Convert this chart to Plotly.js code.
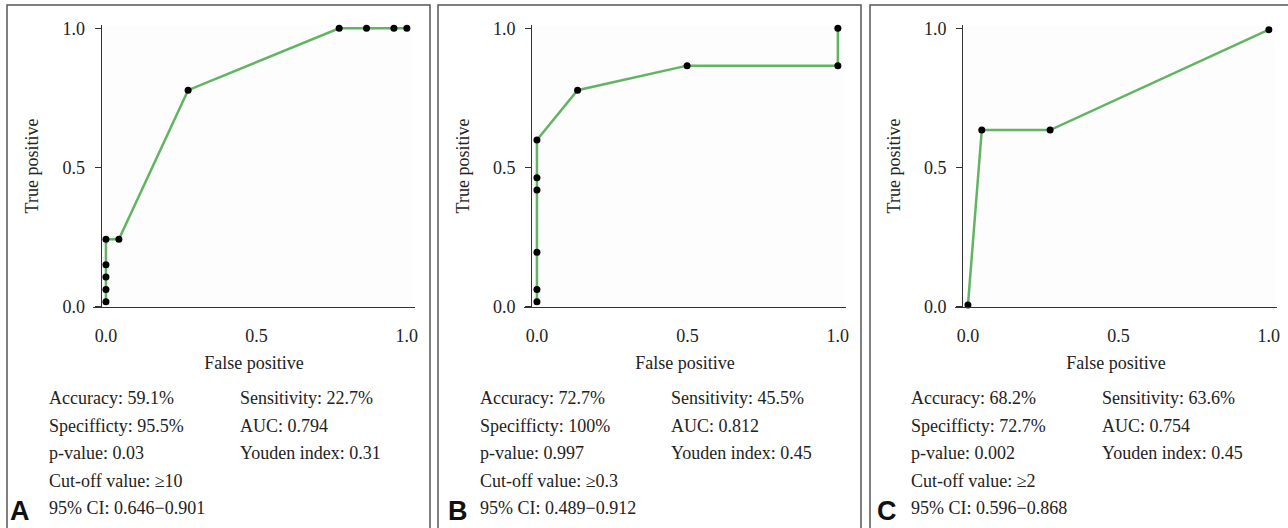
<!DOCTYPE html>
<html><head><meta charset="utf-8">
<script src="https://cdn.plot.ly/plotly-3.0.1.min.js"></script>
<style>html,body{margin:0;padding:0;background:#fff;} #chart{width:1288px;height:528px;}</style>
</head><body><div id="chart"></div>
<script>
// ---- data ----
const panelLetters = ["A", "B", "C"];
const fprA = [0, 0, 0, 0, 0, 0.043, 0.273, 0.775, 0.866, 0.957, 1.0];
const tprA = [0.019, 0.063, 0.108, 0.152, 0.243, 0.243, 0.778, 1.0, 1.0, 1.0, 1.0];
const fprB = [0, 0, 0, 0, 0, 0, 0.135, 0.499, 1.0, 1.0];
const tprB = [0.019, 0.063, 0.196, 0.42, 0.464, 0.599, 0.778, 0.866, 0.866, 1.0];
const fprC = [0, 0.046, 0.273, 1.0];
const tprC = [0.007, 0.635, 0.635, 0.995];
const tickVals = [0, 0.5, 1];
const tickText = ["0.0", "0.5", "1.0"];
const xTitle = "False positive";
const yTitle = "True positive";
const statsLeftA = ["Accuracy: 59.1%", "Specifficty: 95.5%", "p-value: 0.03", "Cut-off value: \u226510", "95% CI: 0.646\u22120.901"];
const statsRightA = ["Sensitivity: 22.7%", "AUC: 0.794", "Youden index: 0.31"];
const statsLeftB = ["Accuracy: 72.7%", "Specifficty: 100%", "p-value: 0.997", "Cut-off value: \u22650.3", "95% CI: 0.489\u22120.912"];
const statsRightB = ["Sensitivity: 45.5%", "AUC: 0.812", "Youden index: 0.45"];
const statsLeftC = ["Accuracy: 68.2%", "Specifficty: 72.7%", "p-value: 0.002", "Cut-off value: \u22652", "95% CI: 0.596\u22120.868"];
const statsRightC = ["Sensitivity: 63.6%", "AUC: 0.754", "Youden index: 0.45"];

// ---- layout helpers (pixel geometry) ----
const W = 1288, H = 528;
const px = v => v / W;
const py = v => 1 - v / H;
const serif = "Liberation Serif, Times New Roman, serif";
const green = "#62b463";

const panels = [
  {fpr: fprA, tpr: tprA, left: statsLeftA, right: statsRightA, plotL: 93, plotR: 415, yAx: 100.5, boxL: 7, boxR: 430, colL: 47, colR: 238, letX: 8},
  {fpr: fprB, tpr: tprB, left: statsLeftB, right: statsRightB, plotL: 524, plotR: 846, yAx: 531, boxL: 438, boxR: 861, colL: 478, colR: 669, letX: 446},
  {fpr: fprC, tpr: tprC, left: statsLeftC, right: statsRightC, plotL: 955, plotR: 1277, yAx: 962, boxL: 870, boxR: 1300, colL: 909, colR: 1100, letX: 875}
];
const plotTop = 25, plotBot = 307;
const rowY = [398, 426, 453, 481, 508];

const data = [];
const layout = {
  width: W, height: H,
  margin: {l: 0, r: 0, t: 0, b: 0},
  paper_bgcolor: "#fff", plot_bgcolor: "rgba(0,0,0,0)",
  showlegend: false, hovermode: false,
  font: {family: serif, size: 18, color: "#222"},
  shapes: [], annotations: []
};

panels.forEach((p, i) => {
  const n = i === 0 ? "" : String(i + 1);
  data.push({
    x: p.fpr, y: p.tpr, type: "scatter", mode: "lines+markers",
    xaxis: "x" + n, yaxis: "y" + n,
    line: {color: green, width: 2.5},
    marker: {color: "#000", size: 7},
    cliponaxis: false
  });
  layout["xaxis" + n] = {
    domain: [px(p.plotL), px(p.plotR)],
    range: [-0.043, 1.027],
    anchor: "y" + n,
    showgrid: false, zeroline: false,
    showline: true, linecolor: "#333", linewidth: 1.3,
    ticks: "", tickvals: tickVals, ticktext: tickText,
    ticklabelstandoff: 12,
    tickfont: {family: serif, size: 18, color: "#222"},
    title: {text: xTitle, font: {family: serif, size: 18, color: "#222"}, standoff: 11}
  };
  layout["yaxis" + n] = {
    domain: [py(plotBot), py(plotTop)],
    range: [0, 1.0118],
    anchor: "free", position: px(p.yAx),
    showgrid: false, zeroline: false,
    showline: true, linecolor: "#333", linewidth: 1.3,
    ticks: "outside", ticklen: 6, tickwidth: 1.2, tickcolor: "#333",
    tickvals: tickVals, ticktext: tickText,
    ticklabelstandoff: 6,
    tickfont: {family: serif, size: 18, color: "#222"},
    title: {text: yTitle, font: {family: serif, size: 18, color: "#222"}, standoff: 17}
  };
  // faint plot background
  layout.shapes.push({type: "rect", xref: "paper", yref: "paper", layer: "below",
    x0: px(p.yAx + 1), x1: px(p.plotR - 2), y0: py(plotBot), y1: py(plotTop),
    fillcolor: "#fdfdfd", line: {width: 0}});
  // panel border
  layout.shapes.push({type: "rect", xref: "paper", yref: "paper",
    x0: px(p.boxL), x1: px(p.boxR), y0: py(540), y1: py(5),
    line: {color: "#555", width: 1.5}, fillcolor: "rgba(0,0,0,0)"});
  p.left.forEach((t, k) => layout.annotations.push({
    text: t, xref: "paper", yref: "paper", x: px(p.colL), y: py(rowY[k]),
    xanchor: "left", yanchor: "middle", showarrow: false,
    font: {family: serif, size: 18, color: "#222"}}));
  p.right.forEach((t, k) => layout.annotations.push({
    text: t, xref: "paper", yref: "paper", x: px(p.colR), y: py(rowY[k]),
    xanchor: "left", yanchor: "middle", showarrow: false,
    font: {family: serif, size: 18, color: "#222"}}));
  layout.annotations.push({
    text: "<b>" + panelLetters[i] + "</b>", xref: "paper", yref: "paper",
    x: px(p.letX), y: py(511), xanchor: "left", yanchor: "middle", showarrow: false,
    font: {family: "Liberation Sans, Arial, sans-serif", size: 27, color: "#111"}});
});

Plotly.newPlot("chart", data, layout, {staticPlot: true, displayModeBar: false});
</script>
</body></html>
